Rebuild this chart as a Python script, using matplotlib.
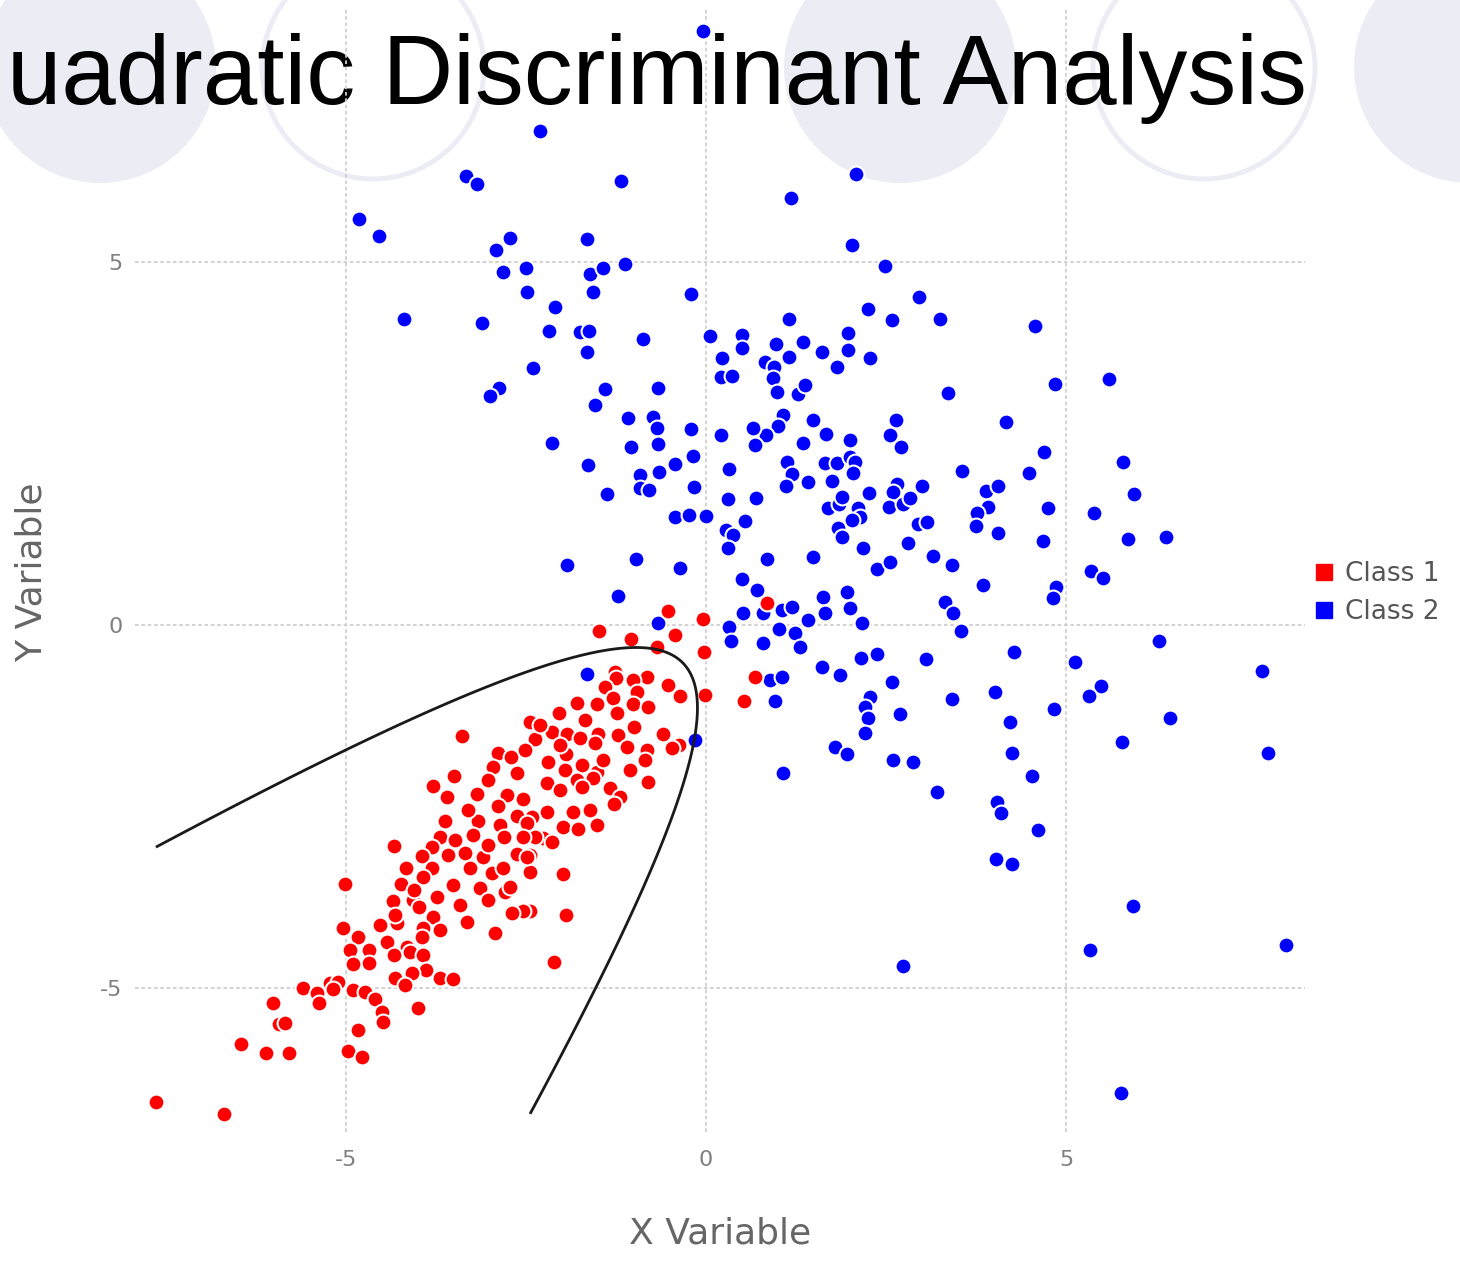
import numpy as np
import matplotlib
matplotlib.use('Agg')
import matplotlib.pyplot as plt
from matplotlib.patches import Circle
from matplotlib.lines import Line2D

plt.rcParams['axes.unicode_minus'] = False
plt.rcParams['font.family'] = ['DejaVu Sans']

# ---------------- data ----------------
class_labels = ['Class 1', 'Class 2']
x_ticks = [-5, 0, 5]
y_ticks = [-5, 0, 5]
title_text = 'uadratic Discriminant Analysis'   # as visible on the slide

class1_x = [0.85,-0.53,-0.04,-1.49,-0.43,-1.04,-0.68,-0.03,0.68,0.53,
-0.01,-1.26,-1.25,-0.82,-1.01,-0.53,-0.36,-1.40,-0.96,-1.29,
-1.79,-1.51,-1.01,-0.81,-1.24,-2.04,-2.44,-1.00,-0.60,-1.22,
-1.50,-1.10,-0.38,-0.47,-2.14,-1.93,-1.75,-2.38,-1.54,-0.82,
-0.85,-1.94,-2.19,-1.72,-1.51,-1.57,-1.96,-1.79,-1.72,-2.21,
-2.03,-1.33,-0.81,-1.19,-1.28,-2.21,-1.85,-1.99,-1.78,-1.51,
-2.42,-2.26,-2.14,-2.38,-2.44,-2.44,-1.99,-2.44,-1.94,-2.11,
-3.39,-2.89,-2.71,-2.96,-2.63,-3.50,-3.79,-3.03,-3.60,-3.18,
-2.76,-2.54,-2.89,-2.63,-3.63,-3.17,-2.86,-2.49,-3.24,-2.81,
-2.54,-3.69,-3.81,-4.33,-3.94,-3.58,-3.35,-3.10,-2.63,-2.49,
-4.17,-3.81,-3.28,-2.97,-2.82,-3.93,-3.51,-3.14,-2.79,-2.72,
-4.24,-5.01,-3.74,-3.03,-4.35,-4.07,-3.99,-2.54,-2.69,-3.79,
-3.32,-4.29,-5.04,-3.93,-3.69,-2.93,-4.83,-4.43,-3.94,-4.68,
-4.15,-4.94,-4.68,-4.90,-4.33,-4.11,-3.93,-3.89,-4.08,-3.69,
-3.51,-4.32,-4.18,-5.60,-5.22,-5.11,-5.18,-5.40,-5.38,-6.01,
-4.90,-4.74,-4.60,-4.50,-4.49,-4.00,-5.93,-5.85,-4.83,-6.46,
-6.11,-5.79,-4.97,-4.78,-7.64,-6.69,-2.31,-2.03,-2.51,-1.68,
-1.43,-1.06,-1.61,-3.31,-3.49,-3.03,-4.06,-3.42,-4.32,-4.53]

class1_y = [0.30,0.19,0.08,-0.08,-0.14,-0.19,-0.30,-0.37,-0.72,-1.05,
-0.97,-0.65,-0.73,-0.72,-0.76,-0.83,-0.98,-0.86,-0.92,-1.01,
-1.07,-1.09,-1.09,-1.13,-1.21,-1.21,-1.34,-1.41,-1.50,-1.52,
-1.50,-1.68,-1.66,-1.70,-1.48,-1.50,-1.56,-1.57,-1.63,-1.72,
-1.86,-1.78,-1.89,-1.93,-2.03,-2.11,-2.00,-2.14,-2.23,-2.18,
-2.28,-2.25,-2.17,-2.37,-2.47,-2.58,-2.58,-2.79,-2.81,-2.76,
-2.65,-2.94,-2.99,-2.92,-3.17,-3.41,-3.43,-3.94,-4.00,-4.65,
-1.53,-1.77,-1.82,-1.96,-2.04,-2.08,-2.22,-2.14,-2.37,-2.33,
-2.34,-2.40,-2.50,-2.63,-2.70,-2.70,-2.76,-2.73,-2.90,-2.92,
-2.92,-2.92,-3.06,-3.05,-3.19,-3.17,-3.14,-3.20,-3.16,-3.20,
-3.35,-3.35,-3.35,-3.42,-3.35,-3.48,-3.59,-3.63,-3.68,-3.61,
-3.57,-3.57,-3.75,-3.79,-3.81,-3.79,-3.89,-3.94,-3.97,-4.03,
-4.10,-4.11,-4.18,-4.18,-4.21,-4.25,-4.30,-4.37,-4.30,-4.48,
-4.44,-4.48,-4.66,-4.68,-4.55,-4.51,-4.55,-4.76,-4.80,-4.86,
-4.88,-4.87,-4.97,-5.01,-4.94,-4.92,-5.02,-5.08,-5.21,-5.21,
-5.03,-5.06,-5.16,-5.34,-5.48,-5.28,-5.50,-5.49,-5.59,-5.78,
-5.90,-5.90,-5.88,-5.96,-6.58,-6.74,-1.38,-1.66,-1.72,-1.31,
-1.86,-2.00,-2.55,-2.55,-2.97,-3.03,-3.66,-3.86,-4.00,-4.14]

class2_x = [-0.04,-2.31,-3.33,-3.18,-1.18,2.08,1.18,-4.82,-4.54,2.03,
-2.72,-2.92,-1.65,-2.82,-2.50,-1.61,-1.43,-1.13,2.49,-2.49,
-1.57,-0.21,-2.10,2.96,-4.19,-3.11,-2.18,-1.75,-1.63,2.25,
2.58,3.25,4.57,1.15,-0.88,0.06,0.50,0.50,1.97,-1.65,
0.22,0.21,0.36,0.97,1.15,1.35,0.82,0.94,0.93,0.99,
1.28,1.38,1.61,1.82,1.97,2.28,4.85,5.60,3.36,-2.40,
-2.88,-3.00,-1.40,-0.67,-1.54,-1.08,-0.74,-0.68,-0.67,-1.04,
-0.21,-2.14,-1.64,-0.18,-0.43,-0.65,-0.92,-0.92,-0.79,-1.38,
-0.17,-0.43,-0.24,0.00,1.07,1.00,0.83,1.49,0.65,0.68,
0.21,1.35,1.67,2.00,2.64,2.56,2.71,1.13,1.19,1.11,
1.42,1.65,1.82,2.00,2.07,2.04,1.75,0.32,0.31,0.69,
0.54,0.28,0.38,0.31,1.69,1.85,1.89,2.11,2.14,2.03,
1.83,1.89,2.26,2.18,2.65,2.60,3.00,2.54,2.74,2.83,
2.94,3.07,2.81,4.69,5.79,3.56,4.49,5.94,3.89,4.06,
3.92,3.76,3.75,4.06,4.75,5.39,4.68,5.86,6.39,3.15,
3.42,3.85,4.86,4.82,5.35,5.51,3.32,3.43,3.54,6.29,
4.28,5.13,3.06,7.72,5.49,5.32,3.42,4.01,4.83,6.44,
4.22,5.78,4.25,7.81,4.53,3.21,4.04,4.10,4.61,4.03,
4.25,5.93,5.33,8.06,5.76,2.74,-1.93,-0.97,-0.36,-1.22,
-0.67,0.85,1.49,2.38,2.56,0.50,0.71,0.51,0.79,1.06,
1.19,1.42,1.63,1.65,1.96,2.00,2.17,0.32,0.35,0.79,
1.01,1.24,1.31,2.15,2.38,1.61,1.86,0.89,1.06,0.96,
2.58,2.28,2.21,2.25,2.69,2.21,1.79,1.96,2.60,2.88,
1.07,-1.65,-0.15,4.17]

class2_y = [8.19,6.81,6.19,6.08,6.12,6.22,5.89,5.60,5.37,5.24,
5.34,5.17,5.32,4.87,4.92,4.84,4.92,4.98,4.95,4.59,
4.59,4.57,4.39,4.52,4.22,4.17,4.06,4.04,4.06,4.36,
4.21,4.22,4.12,4.22,3.94,3.99,4.00,3.82,4.03,3.77,
3.68,3.42,3.43,3.88,3.70,3.90,3.63,3.56,3.41,3.21,
3.19,3.31,3.77,3.56,3.79,3.68,3.32,3.39,3.20,3.54,
3.27,3.16,3.26,3.27,3.03,2.86,2.87,2.72,2.50,2.46,
2.70,2.51,2.21,2.33,2.22,2.11,2.07,1.89,1.86,1.81,
1.90,1.49,1.52,1.50,2.90,2.74,2.62,2.83,2.72,2.48,
2.62,2.51,2.63,2.55,2.83,2.62,2.46,2.25,2.08,1.92,
1.97,2.23,2.23,2.32,2.25,2.10,1.99,2.15,1.74,1.75,
1.43,1.31,1.24,1.06,1.61,1.67,1.77,1.61,1.49,1.45,
1.34,1.21,1.82,1.06,1.94,1.83,1.92,1.63,1.67,1.75,
1.39,1.42,1.13,2.39,2.25,2.12,2.10,1.81,1.85,1.92,
1.63,1.54,1.37,1.27,1.61,1.54,1.16,1.19,1.21,0.95,
0.83,0.55,0.52,0.37,0.74,0.65,0.32,0.17,-0.08,-0.22,
-0.37,-0.51,-0.47,-0.63,-0.84,-0.98,-1.02,-0.92,-1.16,-1.28,
-1.34,-1.61,-1.77,-1.77,-2.08,-2.30,-2.44,-2.59,-2.83,-3.23,
-3.30,-3.87,-4.48,-4.41,-6.45,-4.70,0.83,0.91,0.79,0.40,
0.03,0.91,0.94,0.77,0.87,0.63,0.48,0.17,0.17,0.21,
0.25,0.07,0.39,0.17,0.46,0.23,0.03,-0.03,-0.22,-0.25,
-0.06,-0.11,-0.30,-0.46,-0.40,-0.58,-0.69,-0.76,-0.72,-1.05,
-0.79,-0.99,-1.13,-1.28,-1.23,-1.49,-1.68,-1.78,-1.86,-1.89,
-2.04,-0.68,-1.59,2.80]

# decision threshold on the QDA log-likelihood ratio (class 1 vs class 2)
qda_threshold = 1.45

# ---------------- figure ----------------
W, H = 1460, 1261
fig = plt.figure(figsize=(W / 100, H / 100), dpi=100)

# decorative slide circles (pixel geometry, behind everything)
circ_color = '#ECECF4'
for cx, cy, r, filled in [(100, 67, 116, True), (373, 68, 111, False),
                          (900, 67, 116, True), (1204, 68, 111, False),
                          (1470, 67, 116, True)]:
    if filled:
        c = Circle((cx / 100, (H - cy) / 100), r / 100, transform=fig.dpi_scale_trans,
                   facecolor=circ_color, edgecolor='none', zorder=-3)
    else:
        c = Circle((cx / 100, (H - cy) / 100), r / 100, transform=fig.dpi_scale_trans,
                   facecolor='none', edgecolor=circ_color, lw=3.5, zorder=-3)
    fig.add_artist(c)

# slide title
fig.text(1307 / W, 1 - 104 / H, title_text, fontsize=70.5,
         family=['Liberation Sans', 'DejaVu Sans'], ha='right', va='baseline',
         color='black', zorder=-2)

ax = fig.add_axes([135 / W, 1 - 1132 / H, 1170 / W, 1122 / H])
ax.set_facecolor('none')
for s in ax.spines.values():
    s.set_visible(False)

ax.set_xlim(-7.93, 8.32)
ax.set_ylim(-6.99, 8.48)
ax.set_xticks(x_ticks)
ax.set_yticks(y_ticks)
ax.set_xticklabels([str(t) for t in x_ticks])
ax.set_yticklabels([str(t) for t in y_ticks])
ax.tick_params(axis='both', length=0, labelsize=16, colors='#808080')
ax.tick_params(axis='x', pad=13)
ax.tick_params(axis='y', pad=9)
ax.grid(True, color='#CFCFCF', linestyle=(0, (2, 1.5)), linewidth=1.3)
ax.set_axisbelow(True)

ax.scatter(class2_x, class2_y, s=130, c='#0000FF', edgecolors='white',
           linewidths=1.5, zorder=3)
ax.scatter(class1_x, class1_y, s=130, c='#FF0000', edgecolors='white',
           linewidths=1.5, zorder=3)

# QDA decision boundary computed from the two classes
def qda_score(gx, gy, xs, ys, prior):
    X = np.column_stack([xs, ys])
    m = X.mean(axis=0)
    S = np.cov(X.T)
    Si = np.linalg.inv(S)
    dx = gx - m[0]
    dy = gy - m[1]
    q = Si[0, 0] * dx * dx + 2 * Si[0, 1] * dx * dy + Si[1, 1] * dy * dy
    return -0.5 * np.log(np.linalg.det(S)) - 0.5 * q + np.log(prior)

all_x = np.array(class1_x + class2_x)
all_y = np.array(class1_y + class2_y)
gx, gy = np.meshgrid(np.linspace(all_x.min(), all_x.max(), 500),
                     np.linspace(all_y.min(), all_y.max(), 500))
n1, n2 = len(class1_x), len(class2_x)
d = (qda_score(gx, gy, class1_x, class1_y, n1 / (n1 + n2))
     - qda_score(gx, gy, class2_x, class2_y, n2 / (n1 + n2)))
ax.contour(gx, gy, d, levels=[qda_threshold], colors='#1a1a1a',
           linewidths=2.0, zorder=4)

handles = [Line2D([], [], marker='s', ls='', color='#FF0000', markersize=12),
           Line2D([], [], marker='s', ls='', color='#0000FF', markersize=12)]
ax.legend(handles, class_labels, loc='center left',
          bbox_to_anchor=(1311 / W, 1 - 593 / H), bbox_transform=fig.transFigure,
          frameon=False, fontsize=19, handlelength=1.0, handletextpad=0.3,
          labelspacing=0.45, borderpad=0, borderaxespad=0, labelcolor='#555555')

fig.text(720 / W, 1 - 1233 / H, 'X Variable', fontsize=26, color='#666666',
         ha='center', va='center')
fig.text(32 / W, 1 - 572 / H, 'Y Variable', fontsize=26, color='#666666',
         ha='center', va='center', rotation=90)

fig.savefig('out.png', dpi=100)
